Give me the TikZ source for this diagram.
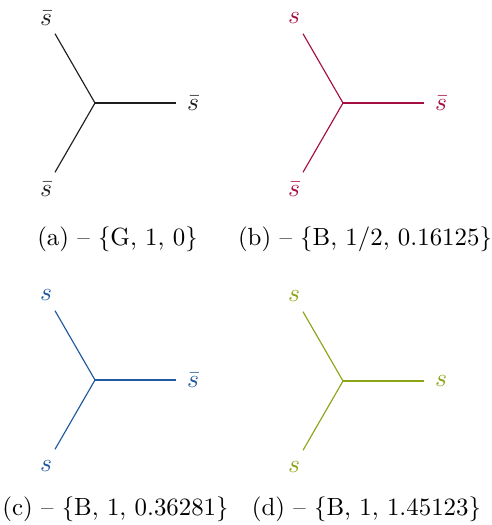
\documentclass[tikz,border=0pt]{standalone}
\usepackage{xcolor}
\definecolor{cRed}{RGB}{165,15,63}
\definecolor{cBlue}{RGB}{31,90,158}
\definecolor{cGreen}{RGB}{138,165,22}
\definecolor{cGray}{RGB}{30,30,30}
\usetikzlibrary{calc}
\newcommand{\Yvert}[7]{%
  \begin{scope}[shift={(#2,#3)}]
    \coordinate (#1c) at (95,103);
    \coordinate (#1t) at ($(#1c)+(120:80)$);
    \coordinate (#1r) at ($(#1c)+(0:81)$);
    \coordinate (#1b) at ($(#1c)+(240:80)$);
    \node[lbl,text=#4] (#1lt) at (46,18.5) {$#5$};
    \node[lbl,text=#4] (#1lr) at (193,103) {$#6$};
    \node[lbl,text=#4] (#1lb) at (46,189.5) {$#7$};
    \draw[arm,draw=#4] (#1c) -- (#1t);
    \draw[arm,draw=#4] (#1c) -- (#1r);
    \draw[arm,draw=#4] (#1c) -- (#1b);
  \end{scope}}
\begin{document}
\begin{tikzpicture}[x=0.392pt,y=-0.392pt,
  lbl/.style={inner sep=0pt,font=\fontsize{10}{12}\selectfont},
  arm/.style={line width=0.45pt},
  captext/.style={inner sep=0pt,font=\fontsize{9.75}{12}\selectfont}]
  \useasboundingbox (0,0) rectangle (492,525);
  \Yvert{a}{0}{0}{cGray}{\bar s}{\bar s}{\bar s}
  \Yvert{b}{248}{0}{cRed}{s}{\bar s}{\bar s}
  \Yvert{c}{0}{277}{cBlue}{s}{\bar s}{s}
  \Yvert{d}{248}{278}{cGreen}{s}{s}{s}
  \node[captext] (acap) at (117.5,239.5) {(a) -- \{G, 1, 0\}};
  \node[captext] (bcap) at (365,239.5) {(b) -- \{B, 1/2, 0.16125\}};
  \node[captext] (ccap) at (115.5,509.5) {(c) -- \{B, 1, 0.36281\}};
  \node[captext] (dcap) at (366.5,509.5) {(d) -- \{B, 1, 1.45123\}};
\end{tikzpicture}
\end{document}
